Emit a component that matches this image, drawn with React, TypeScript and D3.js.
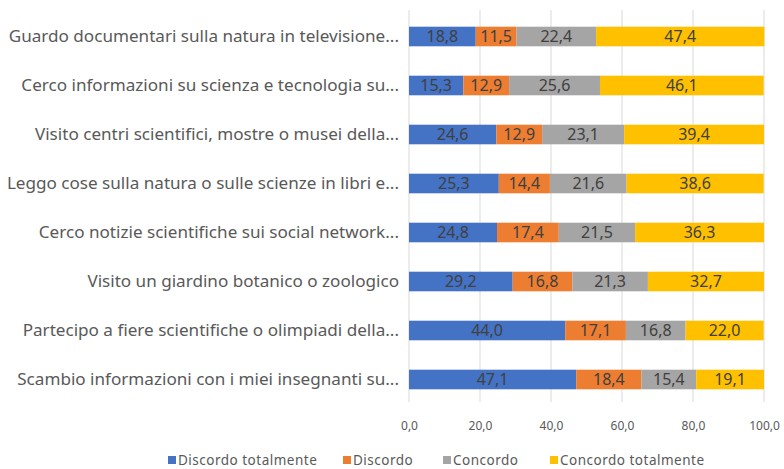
import React, { useEffect, useRef } from 'react';
import * as d3 from 'd3';

const categories = [
  'Guardo documentari sulla natura in televisione...',
  'Cerco informazioni su scienza e tecnologia su...',
  'Visito centri scientifici, mostre o musei della...',
  'Leggo cose sulla natura o sulle scienze in libri e...',
  'Cerco notizie scientifiche sui social network...',
  'Visito un giardino botanico o zoologico',
  'Partecipo a fiere scientifiche o olimpiadi della...',
  'Scambio informazioni con i miei insegnanti su...',
];

const seriesNames = ['Discordo totalmente', 'Discordo', 'Concordo', 'Concordo totalmente'];

const discordoTotalmente = [18.8, 15.3, 24.6, 25.3, 24.8, 29.2, 44.0, 47.1];
const discordo = [11.5, 12.9, 12.9, 14.4, 17.4, 16.8, 17.1, 18.4];
const concordo = [22.4, 25.6, 23.1, 21.6, 21.5, 21.3, 16.8, 15.4];
const concordoTotalmente = [47.4, 46.1, 39.4, 38.6, 36.3, 32.7, 22.0, 19.1];

const xTicks = [0, 20, 40, 60, 80, 100];

const colors = ['#4472C4', '#ED7D31', '#A5A5A5', '#FFC000'];

const W = 784;
const H = 469;
const FONT = '"Noto Sans", sans-serif';

const fmt = (v: number) => v.toFixed(1).replace('.', ',');

const App = () => {
  const ref = useRef<SVGSVGElement>(null);

  useEffect(() => {
    const svg = d3.select(ref.current);
    svg.selectAll('*').remove();

    const x = d3.scaleLinear().domain([0, 100]).range([409, 764]);
    const y = d3.scaleBand().domain(categories).range([12, 404]).paddingInner(0.6).paddingOuter(0.3);

    const rows = categories.map((c, i) => ({
      cat: c,
      '0': discordoTotalmente[i],
      '1': discordo[i],
      '2': concordo[i],
      '3': concordoTotalmente[i],
    }));

    // gridlines
    svg.append('g')
      .selectAll('line')
      .data(xTicks)
      .enter().append('line')
      .attr('x1', d => x(d)).attr('x2', d => x(d))
      .attr('y1', 10).attr('y2', 402)
      .attr('stroke', '#d9d9d9').attr('stroke-width', 1);

    const stackData = d3.stack<any>().keys(['0', '1', '2', '3'])(rows);

    const layers = svg.append('g').selectAll('g')
      .data(stackData)
      .enter().append('g')
      .attr('fill', (_, i) => colors[i]);

    layers.selectAll('rect')
      .data(d => d.map(s => ({ s, cat: (s.data as any).cat })))
      .enter().append('rect')
      .attr('x', d => x(d.s[0]))
      .attr('width', d => x(d.s[1]) - x(d.s[0]))
      .attr('y', d => y(d.cat)!)
      .attr('height', y.bandwidth());

    layers.selectAll('text')
      .data(d => d.map(s => ({ s, cat: (s.data as any).cat })))
      .enter().append('text')
      .attr('x', d => (x(d.s[0]) + x(d.s[1])) / 2)
      .attr('y', d => y(d.cat)! + y.bandwidth() / 2)
      .attr('dy', '0.36em')
      .attr('text-anchor', 'middle')
      .attr('font-family', FONT)
      .attr('font-size', 16)
      .attr('fill', '#404040')
      .text(d => fmt(d.s[1] - d.s[0]));

    // category labels
    svg.append('g')
      .selectAll('text')
      .data(categories)
      .enter().append('text')
      .attr('x', 399)
      .attr('y', d => y(d)! + y.bandwidth() / 2)
      .attr('dy', '0.35em')
      .attr('text-anchor', 'end')
      .attr('font-family', FONT)
      .attr('font-size', 17.1)
      .attr('fill', '#595959')
      .text(d => d);

    // x axis
    const axis = svg.append('g')
      .attr('transform', 'translate(0,404)')
      .call(d3.axisBottom(x).tickValues(xTicks).tickFormat(d => fmt(d as number)).tickSize(0).tickPadding(17));
    axis.select('.domain').remove();
    axis.selectAll('text')
      .attr('font-family', FONT)
      .attr('font-size', 12)
      .attr('fill', '#595959');

    // legend
    const legendX = [168, 343, 443, 550];
    const legend = svg.append('g').selectAll('g')
      .data(seriesNames)
      .enter().append('g')
      .attr('transform', (_, i) => `translate(${legendX[i]},460)`);
    legend.append('rect')
      .attr('x', 0).attr('y', -4).attr('width', 8).attr('height', 8)
      .attr('fill', (_, i) => colors[i]);
    legend.append('text')
      .attr('x', 10)
      .attr('dy', '0.35em')
      .attr('font-family', FONT)
      .attr('font-size', 13.5)
      .attr('letter-spacing', 0.5)
      .attr('fill', '#595959')
      .text(d => d);
  }, []);

  return (
    <svg
      ref={ref}
      width={W}
      height={H}
      style={{ position: 'absolute', left: 0, top: 0, background: '#fff' }}
    />
  );
};

export default App;
